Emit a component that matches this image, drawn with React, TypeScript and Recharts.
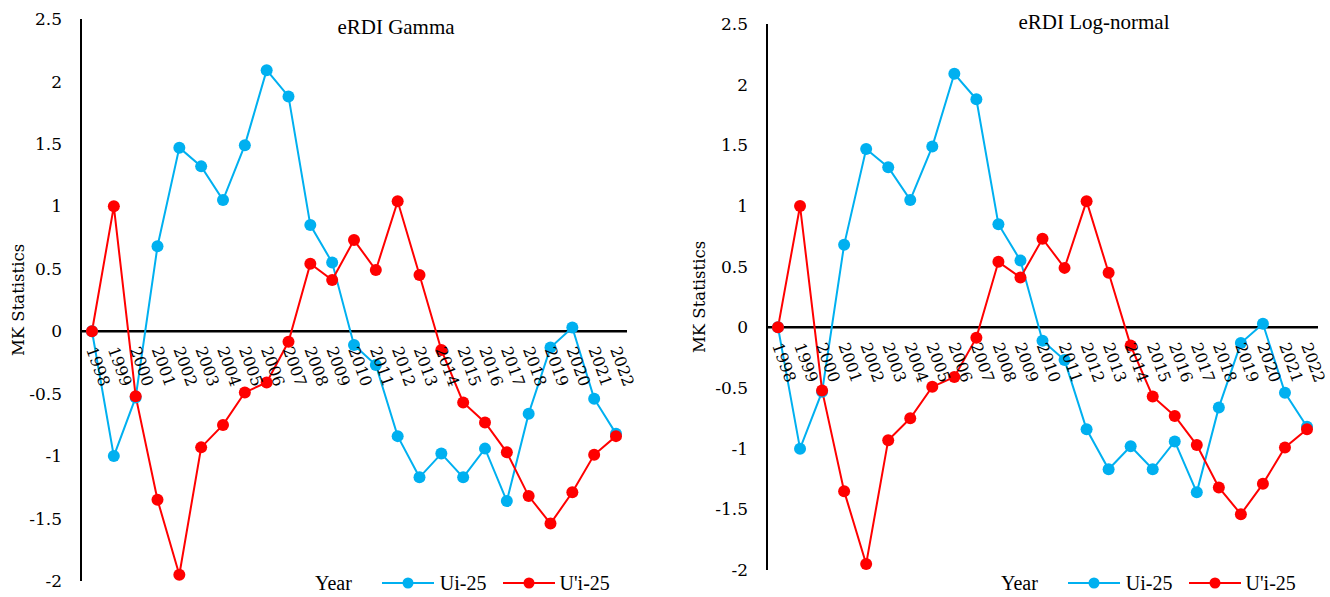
import React from "react";
import {
  Label,
  LabelList,
  Legend,
  Line,
  LineChart,
  ReferenceLine,
  XAxis,
  YAxis,
} from "recharts";

const years = [
  "1998", "1999", "2000", "2001", "2002", "2003", "2004", "2005", "2006",
  "2007", "2008", "2009", "2010", "2011", "2012", "2013", "2014", "2015",
  "2016", "2017", "2018", "2019", "2020", "2021", "2022",
];

// Ui-25 (progressive statistic)
const ui25 = [
  0, -1.0, -0.53, 0.68, 1.47, 1.32, 1.05, 1.49, 2.09, 1.88, 0.85, 0.55,
  -0.11, -0.27, -0.84, -1.17, -0.98, -1.17, -0.94, -1.36, -0.66, -0.13, 0.03,
  -0.54, -0.82,
];

// U'i-25 (retrograde statistic)
const uPrime25 = [
  0, 1.0, -0.52, -1.35, -1.95, -0.93, -0.75, -0.49, -0.41, -0.085, 0.54, 0.41,
  0.73, 0.49, 1.04, 0.45, -0.15, -0.57, -0.73, -0.97, -1.32, -1.54, -1.29,
  -0.99, -0.84,
];

const yTicks = [-2, -1.5, -1, -0.5, 0, 0.5, 1, 1.5, 2, 2.5];

const BLUE = "#00B0F0";
const RED = "#FF0000";
// html text gets the Times metric clone, svg text only finds DejaVu Serif
const HTML_FONT = "Liberation Serif";
const SVG_FONT = "DejaVu Serif";

const data = years.map((year, i) => ({
  year,
  ui: ui25[i],
  uip: uPrime25[i],
}));

function YearTick(props: any) {
  const x = props.x ?? props.viewBox?.x;
  const y = props.y ?? props.viewBox?.y;
  const ax = x - 6;
  const ay = y + 18;
  return (
    <text
      x={ax}
      y={ay}
      transform={`rotate(70 ${ax} ${ay})`}
      fontFamily={SVG_FONT}
      fontSize={16}
      fill="#000"
    >
      {props.value}
    </text>
  );
}

function ValueTick(props: any) {
  return (
    <text
      x={props.x}
      y={props.y}
      dy="0.36em"
      textAnchor="end"
      fontFamily={SVG_FONT}
      fontSize={17}
      fill="#000"
    >
      {props.payload.value}
    </text>
  );
}

function axisTitle(offset: number) {
  return (props: any) => {
    const vb = props.viewBox;
    const cx = vb.x + offset;
    const cy = vb.y + vb.height / 2;
    return (
      <text
        x={cx}
        y={cy}
        dy="0.36em"
        transform={`rotate(-90 ${cx} ${cy})`}
        textAnchor="middle"
        fontFamily={SVG_FONT}
        fontSize={16.5}
        fill="#000"
      >
        MK Statistics
      </text>
    );
  };
}

function LegendMarker({ color }: { color: string }) {
  return (
    <svg width={52} height={12} style={{ display: "block" }}>
      <line x1={0} y1={6} x2={52} y2={6} stroke={color} strokeWidth={2} />
      <circle cx={26} cy={6} r={5.5} fill={color} />
    </svg>
  );
}

function LegendContent() {
  return (
    <div
      style={{
        display: "flex",
        alignItems: "center",
        fontFamily: HTML_FONT,
        fontSize: 20,
        lineHeight: "20px",
        color: "#000",
        whiteSpace: "nowrap",
      }}
    >
      <span style={{ marginRight: 30 }}>Year</span>
      <LegendMarker color={BLUE} />
      <span style={{ marginLeft: 6, marginRight: 16 }}>Ui-25</span>
      <LegendMarker color={RED} />
      <span style={{ marginLeft: 5 }}>U'i-25</span>
    </div>
  );
}

type PanelProps = {
  title: string;
  width: number;
  axisWidth: number;
  top: number;
  bottom: number;
  right: number;
  titleCenter: number;
  titleTop: number;
  legendLeft: number;
  labelOffset: number;
};

function MKPanel({
  title,
  width,
  axisWidth,
  top,
  bottom,
  right,
  titleCenter,
  titleTop,
  legendLeft,
  labelOffset,
}: PanelProps) {
  return (
    <div style={{ position: "relative", width, height: 597 }}>
      <LineChart
        width={width}
        height={597}
        data={data}
        margin={{ top, right, bottom, left: 0 }}
      >
        <XAxis dataKey="year" hide padding={{ left: 11, right: 11 }} />
        <YAxis
          width={axisWidth}
          domain={[-2, 2.5]}
          ticks={yTicks}
          interval={0}
          tickLine={false}
          tickMargin={13}
          axisLine={{ stroke: "#000", strokeWidth: 2 }}
          tick={ValueTick}
        >
          <Label value="MK Statistics" content={axisTitle(labelOffset)} />
        </YAxis>
        <ReferenceLine y={0} stroke="#000" strokeWidth={2.5} />
        <Line
          dataKey={() => 0}
          stroke="none"
          dot={false}
          activeDot={false}
          legendType="none"
          isAnimationActive={false}
        >
          <LabelList dataKey="year" content={YearTick} />
        </Line>
        <Line
          dataKey="ui"
          name="Ui-25"
          stroke={BLUE}
          strokeWidth={2}
          dot={{ r: 6, fill: BLUE, stroke: BLUE, strokeWidth: 0 }}
          activeDot={false}
          isAnimationActive={false}
        />
        <Line
          dataKey="uip"
          name="U'i-25"
          stroke={RED}
          strokeWidth={2}
          dot={{ r: 6, fill: RED, stroke: RED, strokeWidth: 0 }}
          activeDot={false}
          isAnimationActive={false}
        />
        <Legend
          layout="horizontal"
          verticalAlign="middle"
          align="center"
          content={LegendContent}
          wrapperStyle={{
            position: "absolute",
            left: legendLeft,
            top: 573,
            width: 320,
            height: 20,
            right: "auto",
            bottom: "auto",
          }}
        />
      </LineChart>
      <div
        style={{
          position: "absolute",
          left: titleCenter - 150,
          width: 300,
          top: titleTop,
          textAlign: "center",
          fontFamily: HTML_FONT,
          fontSize: 21,
          lineHeight: "21px",
          color: "#000",
          pointerEvents: "none",
        }}
      >
        {title}
      </div>
    </div>
  );
}

export default function App() {
  return (
    <div
      style={{
        position: "absolute",
        left: 0,
        top: 0,
        width: 1330,
        height: 597,
        background: "#fff",
        display: "flex",
      }}
    >
      <MKPanel
        title="eRDI Gamma"
        width={665}
        axisWidth={81}
        top={19}
        bottom={16}
        right={38}
        titleCenter={396}
        titleTop={17}
        legendLeft={315}
        labelOffset={18}
      />
      <MKPanel
        title="eRDI Log-normal"
        width={665}
        axisWidth={102}
        top={24}
        bottom={27}
        right={12}
        titleCenter={429}
        titleTop={12}
        legendLeft={336}
        labelOffset={34}
      />
    </div>
  );
}
